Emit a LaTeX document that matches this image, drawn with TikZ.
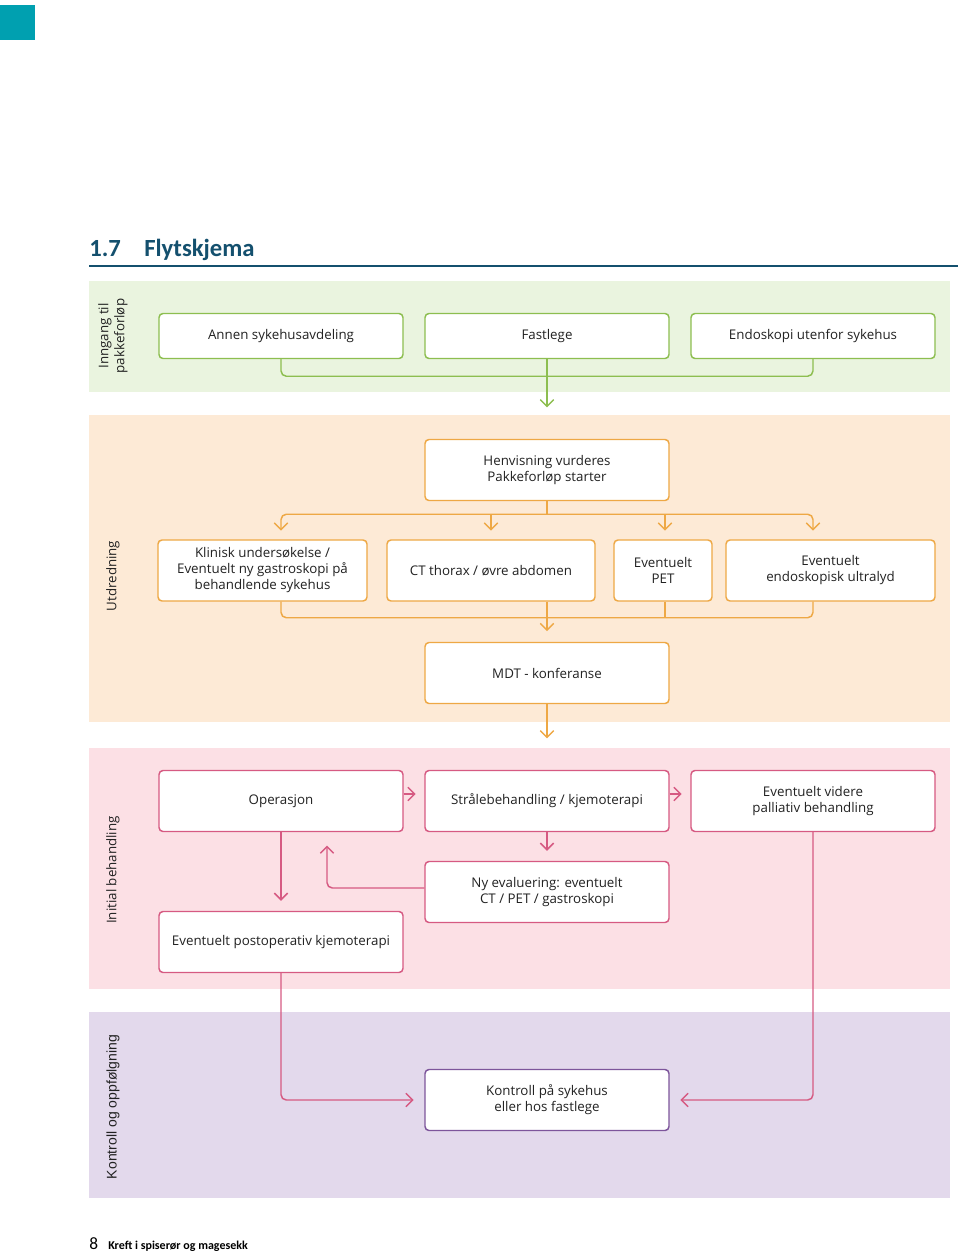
\documentclass[tikz,border=0pt]{standalone}
\usepackage{fontspec}
\setmainfont{Open Sans}
\newfontfamily\titlefont{Carlito}
\newfontfamily\lastfont{Liberation Sans}
\usetikzlibrary{arrows.meta}

\definecolor{tealsq}{HTML}{00A0B0}
\definecolor{titleblue}{HTML}{14506E}
\definecolor{gband}{HTML}{EAF4DF}
\definecolor{gline}{HTML}{8DBE50}
\definecolor{oband}{HTML}{FDEAD6}
\definecolor{oline}{HTML}{EEA845}
\definecolor{pband}{HTML}{FCE0E5}
\definecolor{pline}{HTML}{D65A82}
\definecolor{vband}{HTML}{E3D9EC}
\definecolor{vline}{HTML}{7D559B}
\definecolor{txt}{HTML}{222222}

\tikzset{
  box/.style={draw=#1, fill=white, rounded corners=3pt, line width=1.1pt, align=center,
    inner sep=2pt, text=txt, font=\fontsize{10}{12}\selectfont},
  wide/.style={minimum width=183pt, minimum height=45.75pt},
  lab/.style={rotate=90, align=center, text=txt, font=\fontsize{10}{12}\selectfont},
  conn/.style={line width=1.1pt, rounded corners=4pt},
  tip/.style={-{Straight Barb[length=5pt,width=10pt]}},
}

\begin{document}
\begin{tikzpicture}[x=0.75pt,y=-0.75pt]
  \useasboundingbox (0,0) rectangle (960,1252);
  \fill[tealsq] (0,5) rectangle (35,40);

  % heading
  \node[anchor=base west, inner sep=0, text=titleblue, font=\titlefont\bfseries\fontsize{18.5}{22}\selectfont] (num) at (89,256) {1.7};
  \node[anchor=base west, inner sep=0, text=titleblue, font=\titlefont\bfseries\fontsize{18.5}{22}\selectfont] (title) at (144,256) {Flytskjema};
  \draw[titleblue, line width=1.6pt] (89,266) -- (958,266);

  % bands
  \fill[gband] (89,281) rectangle (950,392);
  \fill[oband] (89,415) rectangle (950,722);
  \fill[pband] (89,748) rectangle (950,989);
  \fill[vband] (89,1012) rectangle (950,1198);

  \node[lab] (lin) at (113,336) {Inngang til\\pakkeforløp};
  \node[lab] (lut) at (113,576) {Utdredning};
  \node[lab] (lib) at (113,870) {Initial behandling};
  \node[lab, font=\lastfont\fontsize{10.5}{12}\selectfont] (lko) at (113,1107) {Kontroll og oppfølgning};

  % inngang
  \node[box=gline, wide, minimum height=33.75pt] (annen) at (281,336) {Annen sykehusavdeling};
  \node[box=gline, wide, minimum height=33.75pt] (fast) at (547,336) {Fastlege};
  \node[box=gline, wide, minimum height=33.75pt] (endo) at (813,336) {Endoskopi utenfor sykehus};

  \draw[conn, gline] (annen.south) -- ++(0,17) -| (endo.south);
  \draw[conn, gline, tip, shorten >=24.5pt] (fast.south) -- (547,440);

  % utredning
  \node[box=oline, wide] (henv) at (547,470) {Henvisning vurderes\\Pakkeforløp starter};
  \node[box=oline, minimum width=156.75pt, minimum height=45.75pt] (klin) at (262.5,570.5) {Klinisk undersøkelse /\\Eventuelt ny gastroskopi på\\behandlende sykehus};
  \node[box=oline, minimum width=156pt, minimum height=45.75pt] (ct) at (491,570.5) {CT thorax / øvre abdomen};
  \node[box=oline, minimum width=73.5pt, minimum height=45.75pt] (pet) at (663,570.5) {Eventuelt\\PET};
  \node[box=oline, minimum width=156.75pt, minimum height=45.75pt] (ultra) at (830.5,570.5) {Eventuelt\\endoskopisk ultralyd};
  \node[box=oline, wide] (mdt) at (547,673) {MDT - konferanse};

  \coordinate (obus) at ([yshift=-9.75pt]henv.south);
  \draw[conn, oline] (henv.south) -- (obus);
  \draw[conn, oline, tip, shorten >=6.5pt] (obus) -| (klin.north -| annen.south);
  \draw[conn, oline, tip, shorten >=6.5pt] (obus) -| (ultra.north -| endo.south);
  \draw[conn, oline, tip, shorten >=6.5pt] (obus -| ct.north) -- (ct.north);
  \draw[conn, oline, tip, shorten >=6.5pt] (obus -| 665,0) -- (pet.north -| 665,0);

  \draw[conn, oline] (klin.south -| annen.south) -- ++(0,16) -| (ultra.south -| endo.south);
  \draw[conn, oline] (pet.south -| 665,0) -- ++(0,16);
  \draw[conn, oline, tip, shorten >=8pt] (ct.south -| mdt.north) -- (mdt.north);
  \draw[conn, oline, tip, shorten >=24.5pt] (mdt.south) -- (547,771);

  % initial behandling
  \node[box=pline, wide] (oper) at (281,801) {Operasjon};
  \node[box=pline, wide] (stral) at (547,801) {Strålebehandling / kjemoterapi};
  \node[box=pline, wide] (pall) at (813,801) {Eventuelt videre\\palliativ behandling};
  \node[box=pline, wide] (nyev) at (547,892) {Ny evaluering: eventuelt\\CT / PET / gastroskopi};
  \node[box=pline, wide] (post) at (281,942) {Eventuelt postoperativ kjemoterapi};

  \draw[conn, pline, tip, shorten >=6.5pt] ([yshift=5.25pt]oper.east) -- ([yshift=5.25pt]stral.west);
  \draw[conn, pline, tip, shorten >=6.5pt] ([yshift=5.25pt]stral.east) -- ([yshift=5.25pt]pall.west);
  \draw[conn, pline, tip, shorten >=7.5pt] (stral.south) -- (nyev.north);
  \draw[conn, pline, tip, shorten >=7.5pt] (oper.south) -- (post.north);
  \draw[conn, pline, tip, shorten >=10pt] ([yshift=3pt]nyev.west) -| ([xshift=34.5pt]oper.south);

  % kontroll
  \node[box=vline, wide] (kontr) at (547,1100) {Kontroll på sykehus\\eller hos fastlege};
  \draw[conn, pline, tip, shorten >=8pt] (post.south) |- (kontr.west);
  \draw[conn, pline, tip, shorten >=8pt] (pall.south) |- (kontr.east);

  % footer
  \node[anchor=base west, inner sep=0, text=black, font=\titlefont\fontsize{13}{15}\selectfont] (page) at (89,1249) {8};
  \node[anchor=base west, inner sep=0, text=black, font=\titlefont\bfseries\fontsize{9}{11}\selectfont] (foot) at (108,1249) {Kreft i spiserør og magesekk};
\end{tikzpicture}
\end{document}
